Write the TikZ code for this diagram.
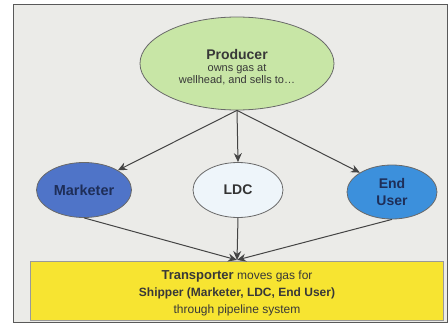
\documentclass[tikz,border=0pt]{standalone}
\usepackage{fontspec}
\setmainfont{Liberation Sans}
\usetikzlibrary{shapes.geometric,arrows.meta}
\definecolor{bgc}{HTML}{EBEBE8}
\definecolor{prodc}{HTML}{C8E6A6}
\definecolor{markc}{HTML}{4F74C8}
\definecolor{ldcc}{HTML}{EEF5FA}
\definecolor{endc}{HTML}{3C90DC}
\definecolor{yelc}{HTML}{F7E431}
\definecolor{linec}{HTML}{444444}
\definecolor{navy}{HTML}{1E2E58}
\begin{document}
\begin{tikzpicture}[x=1pt,y=-1pt,
  oval/.style={ellipse,draw=linec!80,line width=0.8pt,inner sep=0pt},
  conn/.style={draw=linec,line width=1pt,-{Stealth[length=9pt,width=8pt]}}]
\useasboundingbox (0,0) rectangle (448,324);
\fill[white] (0,0) rectangle (448,324);
\draw[fill=bgc,draw=gray!70!black,line width=1pt] (13,4) rectangle (447,322);
\node[oval,fill=prodc,minimum width=194pt,minimum height=93pt] (prod) at (237,63.5) {};
\node[align=center,text=black!78,inner sep=0pt] (prodtxt) at (237,67.5)
  {{\fontsize{14}{14}\selectfont\bfseries Producer}\\[0pt]{\fontsize{11}{14}\selectfont owns gas at}\\{\fontsize{11}{14}\selectfont wellhead, and sells to\dots}};
\node[oval,fill=markc,minimum width=95pt,minimum height=55pt,text=navy,font=\fontsize{14.5}{16}\selectfont\bfseries] (mark) at (84,190) {Marketer};
\node[oval,fill=ldcc,minimum width=90pt,minimum height=55pt,text=black!80,font=\fontsize{14}{16}\selectfont\bfseries] (ldc) at (238,190) {LDC};
\node[oval,fill=endc,minimum width=90pt,minimum height=54pt,text=navy,align=center,font=\fontsize{14}{17}\selectfont\bfseries] (end) at (392,192) {End\\User};
\node[draw=gray!80,line width=0.8pt,fill=yelc,minimum width=413pt,minimum height=59pt] (trans) at (236.5,290.5) {};
\node[align=center,text=black!78,inner sep=0pt,font=\fontsize{12}{17}\selectfont] (transtxt) at (237,293)
  {{\fontsize{13}{17}\selectfont\bfseries Transporter} moves gas for\\{\bfseries Shipper (Marketer, LDC, End User)}\\through pipeline system};
\coordinate (tin) at (237,260);
\draw[conn] (prod.south) -- (ldc.north);
\draw[conn] (prod.south) -- (mark.north east);
\draw[conn] (prod.south) -- (end.north west);
\draw[conn] (mark.south) -- (tin);
\draw[conn] (ldc.south) -- (tin);
\draw[conn] (end.south) -- (tin);
\end{tikzpicture}
\end{document}
